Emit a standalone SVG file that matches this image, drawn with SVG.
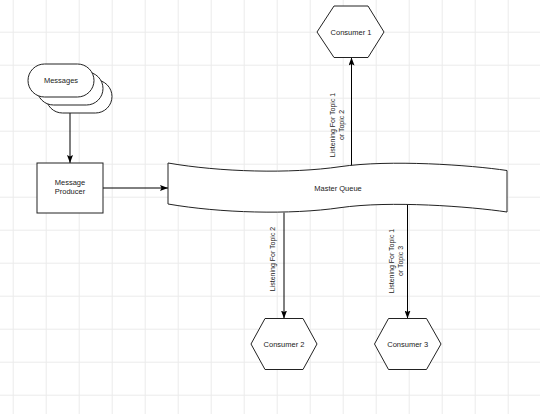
<svg xmlns="http://www.w3.org/2000/svg" width="540" height="414" viewBox="0 0 540 414">
<defs>
<pattern id="grid" width="33" height="33" patternUnits="userSpaceOnUse" x="12.7" y="31.7">
<path d="M0.5,0 V33 M0,0.5 H33" fill="none" stroke="#ebebeb" stroke-width="1"/>
</pattern>
<marker id="arrow" markerWidth="8" markerHeight="6" refX="8" refY="3" orient="auto" markerUnits="userSpaceOnUse">
<path d="M0,0 L8,3 L0,6 L1.5,3 Z" fill="#000"/>
</marker>
<style>
.shape{fill:#fff;stroke:#222;stroke-width:1}
.lbl{font-family:"Liberation Sans",Arial,sans-serif;font-size:7.5px;fill:#222;text-anchor:middle;dominant-baseline:central}
.elbl{font-family:"Liberation Sans",Arial,sans-serif;font-size:7px;fill:#222;text-anchor:middle;dominant-baseline:central}
.edge{fill:none;stroke:#000;stroke-width:1;marker-end:url(#arrow)}
</style>
</defs>
<rect width="540" height="414" fill="#fff"/>
<rect width="540" height="414" fill="url(#grid)"/>

<g id="connectors">
<path class="edge" d="M70,113 V163"/>
<path class="edge" d="M103,188 H168"/>
<path class="edge" d="M351.5,166 V57.5"/>
<path class="edge" d="M284,212.5 V318.5"/>
<path class="edge" d="M407.5,205 V318.5"/>
<text class="elbl" transform="translate(332,125) rotate(-90)">Listening For Topic 1</text>
<text class="elbl" transform="translate(341.5,125) rotate(-90)">or Topic 2</text>
<text class="elbl" transform="translate(272,259) rotate(-90)">Listening For Topic 2</text>
<text class="elbl" transform="translate(391,261) rotate(-90)">Listening For Topic 1</text>
<text class="elbl" transform="translate(400.5,261) rotate(-90)">or Topic 3</text>
</g>

<g id="messages">
<rect class="shape" x="46" y="80" width="66" height="33" rx="16.5"/>
<rect class="shape" x="37" y="72" width="66" height="33" rx="16.5"/>
<rect class="shape" x="28" y="64" width="66" height="33" rx="16.5"/>
<text class="lbl" x="61" y="80.5">Messages</text>
</g>

<g id="producer">
<rect class="shape" x="37" y="163" width="66" height="50"/>
<text class="lbl" x="70" y="182.5">Message</text>
<text class="lbl" x="70" y="191.5">Producer</text>
</g>

<g id="queue">
<path class="shape" d="M168,163 C220,172 290,174 340,166.7 S470,165 507,170.5 V212 C470,206.5 390,200.4 340,207.7 S220,213 168,204 Z"/>
<text class="lbl" x="338" y="188">Master Queue</text>
</g>

<g id="consumer1">
<polygon class="shape" points="317,32 334,6 368,6 384,32 368,57.5 334,57.5"/>
<text class="lbl" x="351" y="32">Consumer 1</text>
</g>

<g id="consumer2">
<polygon class="shape" points="251,344 265,318.5 303,318.5 317,344 303,369.5 265,369.5"/>
<text class="lbl" x="284" y="344">Consumer 2</text>
</g>

<g id="consumer3">
<polygon class="shape" points="374.5,344 388.5,318.5 426.5,318.5 441,344 426.5,369.5 388.5,369.5"/>
<text class="lbl" x="407.7" y="344">Consumer 3</text>
</g>
</svg>
